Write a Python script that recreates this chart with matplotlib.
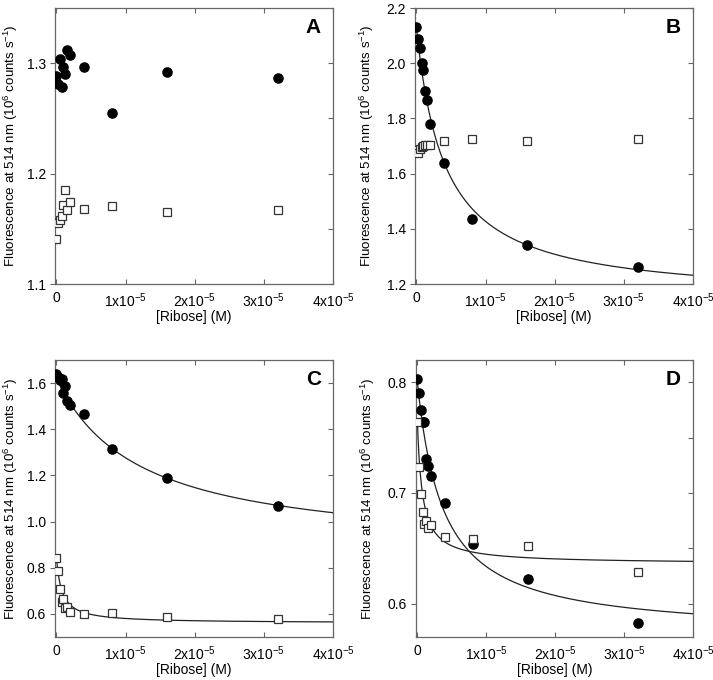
import numpy as np
import matplotlib
matplotlib.use('Agg')
import matplotlib.pyplot as plt
from matplotlib.ticker import FixedLocator, FuncFormatter

plt.rcParams['font.family'] = ['Liberation Sans', 'DejaVu Sans']
plt.rcParams['mathtext.fontset'] = 'custom'
plt.rcParams['mathtext.rm'] = 'Liberation Sans'
plt.rcParams['mathtext.it'] = 'Liberation Sans:italic'

#----------------------------------------------------------
# DATA  (ribose concentrations in uM, fluorescence in 1e6 counts/s)
#----------------------------------------------------------
conc = [0, 0.25, 0.5, 0.75, 1.0, 1.25, 1.5, 2, 4, 8, 16, 32]

a_filled = [1.288, 1.281, 1.304, 1.278, 1.297, 1.290, 1.312, 1.307, 1.297, 1.255, 1.292, 1.287]
a_open = [1.141, 1.155, 1.158, 1.162, 1.172, 1.185, 1.167, 1.174, 1.168, 1.171, 1.165, 1.167]

b_filled = [2.130, 2.088, 2.054, 2.001, 1.977, 1.899, 1.865, 1.778, 1.640, 1.435, 1.343, 1.263]
b_open = [1.687, 1.675, 1.690, 1.696, 1.700, 1.702, 1.702, 1.702, 1.718, 1.727, 1.717, 1.724]

c_filled = [1.640, 1.626, 1.615, 1.616, 1.557, 1.589, 1.524, 1.503, 1.464, 1.314, 1.188, 1.066]
c_open = [0.844, 0.785, 0.706, 0.652, 0.663, 0.624, 0.628, 0.610, 0.601, 0.605, 0.588, 0.578]

d_filled = [0.803, 0.790, 0.775, 0.764, 0.764, 0.731, 0.724, 0.715, 0.691, 0.654, 0.622, 0.583]
d_open = [0.764, 0.723, 0.699, 0.683, 0.672, 0.675, 0.668, 0.671, 0.660, 0.658, 0.652, 0.629]

# hyperbolic fit parameters (F0, amplitude, Kd in uM)
b_filled_fit = (2.13, 0.99, 4.08)
c_filled_fit = (1.62, 0.756, 12.0)
c_open_fit = (0.85, 0.29, 0.75)
d_filled_fit = (0.80, 0.2285, 3.73)
d_open_fit = (0.765, 0.129, 0.72)

panels = [
    # letter, filled, open, fits, ylim, major, minor(right side)
    ("A", a_filled, a_open, [], (1.1, 1.35), [1.1, 1.2, 1.3], [1.15, 1.25]),
    ("B", b_filled, b_open, [b_filled_fit], (1.2, 2.2), [1.2, 1.4, 1.6, 1.8, 2.0, 2.2], []),
    ("C", c_filled, c_open, [c_filled_fit, c_open_fit], (0.5, 1.7), [0.6, 0.8, 1.0, 1.2, 1.4, 1.6], []),
    ("D", d_filled, d_open, [d_filled_fit, d_open_fit], (0.57, 0.82), [0.6, 0.7, 0.8], [0.65, 0.75]),
]

#----------------------------------------------------------
# FIGURE
#----------------------------------------------------------
W, H = 713, 680
fig = plt.figure(figsize=(W / 100, H / 100), dpi=100)

# axes boxes in pixels: left, top, right, bottom
boxes = [(55, 8, 333, 284), (415, 8, 693, 284), (55, 360, 333, 637), (416, 360, 693, 637)]

spine_col = '#666666'
x_ticks = [0, 1e-5, 2e-5, 3e-5, 4e-5]
x_ticklabels = ['0', '1x10$^{-5}$', '2x10$^{-5}$', '3x10$^{-5}$', '4x10$^{-5}$']

xs = np.array(conc) * 1e-6
xfit = np.linspace(0, 4e-5, 400)

for (letter, yf, yo, fits, ylim, major, minor), (l, t, r, b) in zip(panels, boxes):
    ax = fig.add_axes([l / W, 1 - b / H, (r - l) / W, (b - t) / H])

    for f0, amp, kd in fits:
        k = kd * 1e-6
        ax.plot(xfit, f0 - amp * xfit / (k + xfit), color='#222222', lw=0.9, zorder=2)

    ax.plot(xs, yf, 'o', ms=6.6, color='black', mec='black', zorder=3)
    ax.plot(xs, yo, 's', ms=6.4, mfc='white', mec='#333333', mew=0.9, zorder=4)

    ax.set_xlim(-2e-7, 4e-5)
    ax.set_ylim(*ylim)
    ax.xaxis.set_major_locator(FixedLocator(x_ticks))
    ax.set_xticklabels(x_ticklabels)
    ax.yaxis.set_major_locator(FixedLocator(major))
    ax.yaxis.set_major_formatter(FuncFormatter(lambda v, p: f"{v:.1f}"))
    if minor:
        ax.yaxis.set_minor_locator(FixedLocator(minor))
        ax.tick_params(axis='y', which='minor', left=False, right=True,
                       direction='in', length=3.5, width=0.8, color=spine_col)

    ax.tick_params(axis='both', which='major', labelsize=10, width=0.8, color=spine_col)
    ax.tick_params(axis='x', which='major', direction='in', top=True, length=3.5, pad=5)
    ax.tick_params(axis='y', which='major', direction='out', length=3.5, pad=3)
    ax.tick_params(axis='y', which='major', right=True)
    # right ticks point inward
    for tk in ax.yaxis.get_major_ticks():
        tk.tick2line.set_marker(matplotlib.lines.TICKLEFT)

    for s in ax.spines.values():
        s.set_color(spine_col)
        s.set_linewidth(0.9)

    ax.set_xlabel('[Ribose] (M)', fontsize=10)
    ax.set_ylabel('Fluorescence at 514 nm (10$^{6}$ counts s$^{-1}$)', fontsize=9.6)
    ax.xaxis.set_label_coords(0.5, -0.095)
    ax.yaxis.set_label_coords(-0.125 if letter in "AC" else -0.14, 0.5)

    ax.text(0.93, 0.93, letter, transform=ax.transAxes, fontsize=15,
            fontweight='bold', ha='center', va='center')

fig.savefig('out.png', dpi=100)
